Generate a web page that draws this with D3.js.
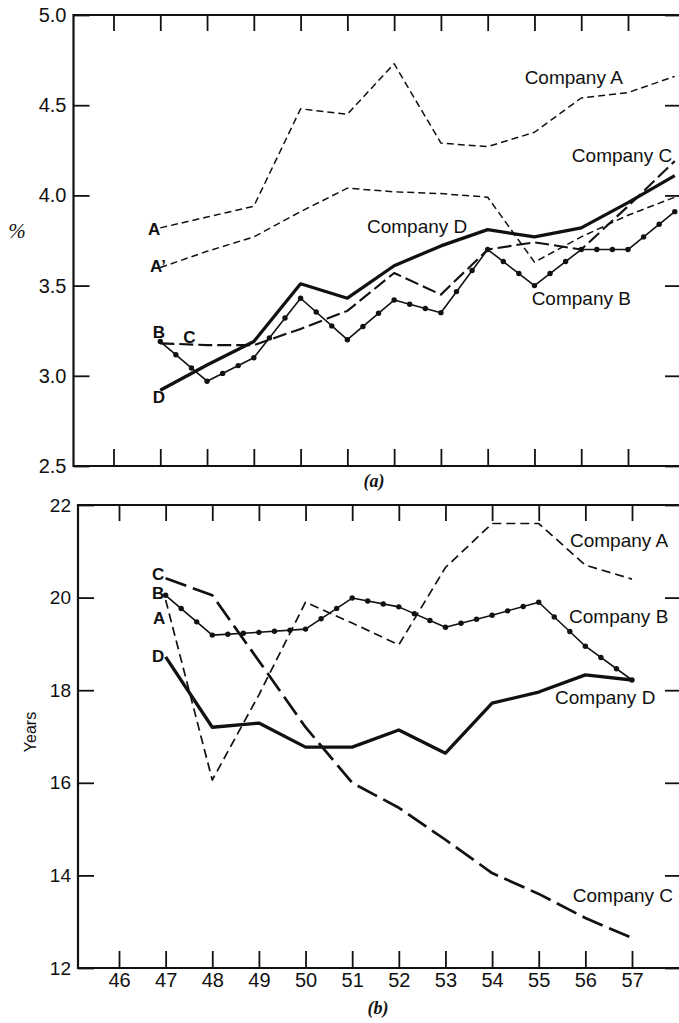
<!DOCTYPE html>
<html>
<head>
<meta charset="utf-8">
<script src="https://cdnjs.cloudflare.com/ajax/libs/d3/7.8.5/d3.min.js"></script>
<style>
  body { margin: 0; background: #fff; }
  text { font-family: "Liberation Sans", Arial, sans-serif; fill: #111; }
  .axis path { display: none; }
  .axis line { stroke: #111; stroke-width: 1.8; }
</style>
</head>
<body>
<script>
// years on the x axis
var xTicks = [46, 47, 48, 49, 50, 51, 52, 53, 54, 55, 56, 57];

// panel (a): percent, 1947 - 1958
var pctYears = [47, 48, 49, 50, 51, 52, 53, 54, 55, 56, 57, 58];
var pctA  = [3.82, 3.88, 3.94, 4.48, 4.45, 4.73, 4.29, 4.27, 4.35, 4.54, 4.57, 4.66];
var pctA2 = [3.60, 3.69, 3.77, 3.91, 4.04, 4.02, 4.01, 3.99, 3.63, 3.77, 3.89, 3.99];
var pctB  = [3.19, 2.97, 3.10, 3.43, 3.20, 3.42, 3.35, 3.70, 3.50, 3.70, 3.70, 3.91];
var pctC  = [3.18, 3.17, 3.17, 3.26, 3.36, 3.57, 3.45, 3.70, 3.74, 3.70, 3.94, 4.19];
var pctD  = [2.92, 3.06, 3.19, 3.51, 3.43, 3.61, 3.72, 3.81, 3.77, 3.82, 3.96, 4.11];
var pctTicks = [2.5, 3.0, 3.5, 4.0, 4.5, 5.0];

// panel (b): years, 1947 - 1957
var lifeYears = [47, 48, 49, 50, 51, 52, 53, 54, 55, 56, 57];
var lifeA = [19.95, 16.06, 17.9, 19.9, 19.45, 18.98, 20.65, 21.6, 21.6, 20.7, 20.4];
var lifeB = [20.05, 19.19, 19.25, 19.32, 19.99, 19.80, 19.36, 19.62, 19.90, 18.95, 18.22];
var lifeC = [20.42, 20.05, 18.63, 17.2, 16.0, 15.46, 14.77, 14.05, 13.6, 13.08, 12.65];
var lifeD = [18.72, 17.2, 17.29, 16.77, 16.77, 17.14, 16.64, 17.72, 17.96, 18.33, 18.22];
var lifeTicks = [12, 14, 16, 18, 20, 22];

var W = 679, H = 1023;
var svg = d3.select("body").append("svg")
    .attr("width", W)
    .attr("height", H);

// line styles for each company
var styles = {
  A:  {top: {w: 1.5, dash: "7,4"},  bot: {w: 1.7, dash: "9,5"}},
  C:  {top: {w: 2.1, dash: "14,5"}, bot: {w: 2.7, dash: "22,7"}},
  D:  {top: {w: 3.3, dash: null},   bot: {w: 3.3, dash: null}},
  B:  {top: {w: 1.6, dash: null},   bot: {w: 1.6, dash: null}}
};

function panel(opt) {
  var g = svg.append("g");
  var x = d3.scaleLinear().domain([46, 57]).range(opt.xr);
  var y = d3.scaleLinear().domain(opt.yd).range(opt.yr);

  // frame (right edge is just off the page)
  var left = opt.left, right = W + 3;
  g.append("path")
    .attr("d", "M" + right + "," + y(opt.yd[1]) + "H" + left + "V" + y(opt.yd[0]) + "H" + right)
    .attr("fill", "none").attr("stroke", "#111").attr("stroke-width", 2.2);

  g.append("g").attr("class", "axis")
    .attr("transform", "translate(0," + y(opt.yd[0]) + ")")
    .call(d3.axisBottom(x).tickValues(xTicks).tickSize(-17).tickPadding(5)
      .tickFormat(opt.xLabels ? d3.format("d") : ""))
    .selectAll("text").style("font-size", "20px");
  g.append("g").attr("class", "axis")
    .attr("transform", "translate(0," + y(opt.yd[1]) + ")")
    .call(d3.axisTop(x).tickValues(xTicks).tickSize(-16).tickFormat(""));
  g.append("g").attr("class", "axis")
    .attr("transform", "translate(" + left + ",0)")
    .call(d3.axisLeft(y).tickValues(opt.yTicks).tickSize(-16).tickPadding(7)
      .tickFormat(opt.yFmt))
    .selectAll("text").style("font-size", opt.yFont);
  g.append("g").attr("class", "axis")
    .attr("transform", "translate(" + right + ",0)")
    .call(d3.axisRight(y).tickValues(opt.yTicks).tickSize(-17).tickFormat(""));

  var line = d3.line().x(function(d) { return x(d[0]); }).y(function(d) { return y(d[1]); });

  opt.series.forEach(function(s) {
    var pts = opt.years.map(function(yr, i) { return [yr, s.values[i]]; });
    var st = styles[s.style][opt.key];
    g.append("path")
      .attr("d", line(pts))
      .attr("fill", "none")
      .attr("stroke", "#111")
      .attr("stroke-width", st.w)
      .attr("stroke-linejoin", "round")
      .attr("stroke-dasharray", st.dash);
    if (s.dots) {
      // markers on the vertices and two between each pair
      var dots = [];
      pts.forEach(function(p, i) {
        dots.push(p);
        if (i < pts.length - 1) {
          var q = pts[i + 1];
          dots.push([p[0] + (q[0] - p[0]) / 3, p[1] + (q[1] - p[1]) / 3]);
          dots.push([p[0] + 2 * (q[0] - p[0]) / 3, p[1] + 2 * (q[1] - p[1]) / 3]);
        }
      });
      g.selectAll(null).data(dots).enter().append("circle")
        .attr("cx", function(d) { return x(d[0]); })
        .attr("cy", function(d) { return y(d[1]); })
        .attr("r", 2.7)
        .attr("fill", "#111");
    }
  });

  opt.labels.forEach(function(l) {
    g.append("text")
      .attr("x", x(l[1]))
      .attr("y", y(l[2]))
      .style("font-size", l[3] ? "17px" : "19px")
      .style("font-weight", l[3] ? "bold" : "normal")
      .text(l[0]);
  });
  return {x: x, y: y};
}

panel({
  key: "top",
  xr: [113.5, 628], yd: [2.5, 5.0], yr: [466, 15], left: 73.5,
  years: pctYears, yTicks: pctTicks, yFmt: d3.format(".1f"), yFont: "20px", xLabels: false,
  series: [
    {values: pctA, style: "A"},
    {values: pctA2, style: "A"},
    {values: pctC, style: "C"},
    {values: pctD, style: "D"},
    {values: pctB, style: "B", dots: true}
  ],
  labels: [
    ["Company A", 54.79, 4.62], ["Company C", 55.80, 4.185],
    ["Company D", 51.42, 3.79], ["Company B", 54.94, 3.39],
    ["A", 46.74, 3.78, 1], ["A\u2019", 46.78, 3.575, 1], ["B", 46.84, 3.21, 1],
    ["C", 47.49, 3.18, 1], ["D", 46.84, 2.85, 1]
  ]
});

panel({
  key: "bot",
  xr: [119, 632], yd: [12, 22], yr: [968, 505], left: 78,
  years: lifeYears, yTicks: lifeTicks, yFmt: d3.format("d"), yFont: "19px", xLabels: true,
  series: [
    {values: lifeA, style: "A"},
    {values: lifeC, style: "C"},
    {values: lifeD, style: "D"},
    {values: lifeB, style: "B", dots: true}
  ],
  labels: [
    ["Company A", 55.67, 21.09], ["Company B", 55.65, 19.45],
    ["Company D", 55.35, 17.70], ["Company C", 55.73, 13.43],
    ["C", 46.71, 20.38, 1], ["B", 46.71, 19.96, 1],
    ["A", 46.73, 19.43, 1], ["D", 46.71, 18.61, 1]
  ]
});

// axis titles and captions
svg.append("text").attr("x", 17).attr("y", 238).attr("text-anchor", "middle")
  .style("font-size", "21px").style("font-family", "'Liberation Serif', serif")
  .style("font-style", "italic").text("%");
svg.append("text").attr("transform", "translate(36,732) rotate(-90)")
  .attr("text-anchor", "middle").style("font-size", "16px").text("Years");
svg.append("text").attr("x", 374).attr("y", 487).attr("text-anchor", "middle")
  .style("font-family", "'Liberation Serif', serif").style("font-style", "italic")
  .style("font-weight", "bold").style("font-size", "18px").text("(a)");
svg.append("text").attr("x", 378).attr("y", 1014).attr("text-anchor", "middle")
  .style("font-family", "'Liberation Serif', serif").style("font-style", "italic")
  .style("font-weight", "bold").style("font-size", "18px").text("(b)");
</script>
</body>
</html>
